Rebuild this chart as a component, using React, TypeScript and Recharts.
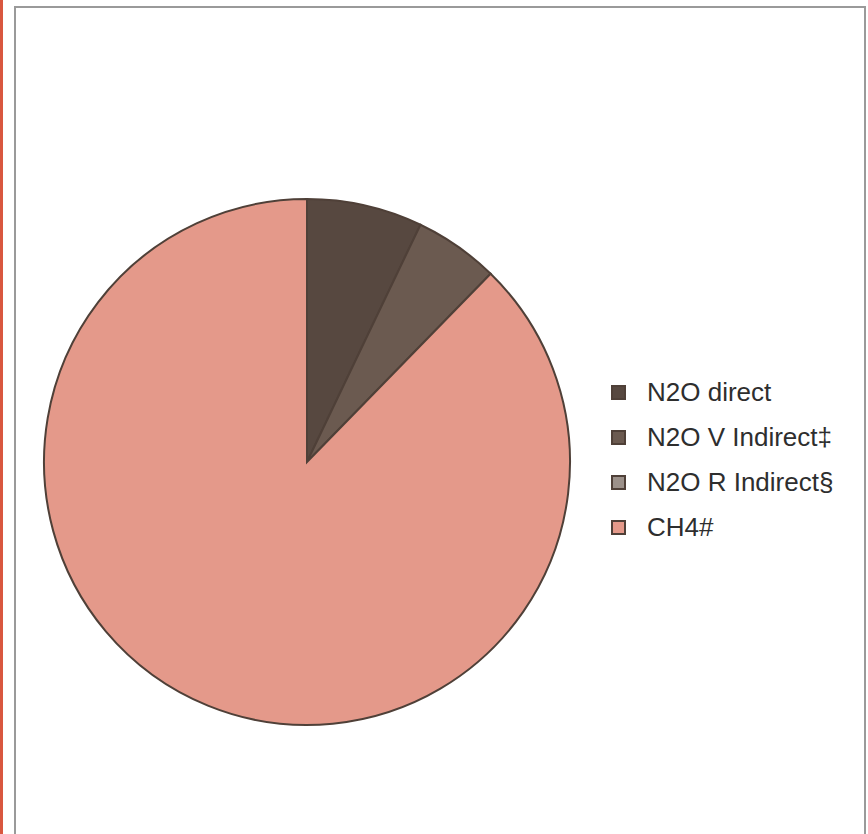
import { PieChart, Pie, Cell, Legend } from 'recharts';

const categories = ['N2O direct', 'N2O V Indirect‡', 'N2O R Indirect§', 'CH4#'];
const shares = [7.1, 5.2, 0, 87.7];
const colors = ['#574840', '#6b5a50', '#9c918a', '#e4998a'];

const data = categories.map((name, i) => ({ name, value: shares[i] }));

// Legend with bordered square swatches
const renderLegend = (props: any) => {
  const { payload } = props;
  return (
    <div style={{ display: 'flex', flexDirection: 'column' }}>
      {payload.map((entry: any, index: number) => (
        <div
          key={index}
          style={{ display: 'flex', alignItems: 'center', height: 45 }}
        >
          <div
            style={{
              width: 15,
              height: 15,
              boxSizing: 'border-box',
              border: '2px solid #4f4038',
              background: colors[index],
              marginRight: 21,
            }}
          />
          <span
            style={{
              fontFamily: '"Liberation Sans", Arial, sans-serif',
              fontSize: 26,
              color: '#2e2e2e',
              whiteSpace: 'nowrap',
            }}
          >
            {categories[index]}
          </span>
        </div>
      ))}
    </div>
  );
};

export default function App() {
  return (
    <div style={{ position: 'absolute', left: 0, top: 0, width: 868, height: 834, overflow: 'hidden', background: '#fff' }}>
      <div style={{ position: 'absolute', left: 0, top: 0, width: 3, height: 834, background: '#d9573f' }} />
      <div
        style={{
          position: 'absolute',
          left: 14,
          top: 6,
          width: 852,
          height: 850,
          boxSizing: 'border-box',
          border: '2px solid #9a9a9a',
        }}
      />
      <div style={{ position: 'absolute', left: 0, top: 0 }}>
        <PieChart width={868} height={834} margin={{ top: 0, right: 0, bottom: 0, left: 0 }}>
          <Pie
            data={data}
            dataKey="value"
            nameKey="name"
            cx={307}
            cy={462}
            outerRadius={263}
            startAngle={90}
            endAngle={-270}
            stroke="#4f4038"
            strokeWidth={2}
            isAnimationActive={false}
          >
            {data.map((entry, index) => (
              <Cell key={index} fill={colors[index]} />
            ))}
          </Pie>
          <Legend
            content={renderLegend}
            wrapperStyle={{ position: 'absolute', left: 611, top: 370, width: 250 }}
          />
        </PieChart>
      </div>
    </div>
  );
}
